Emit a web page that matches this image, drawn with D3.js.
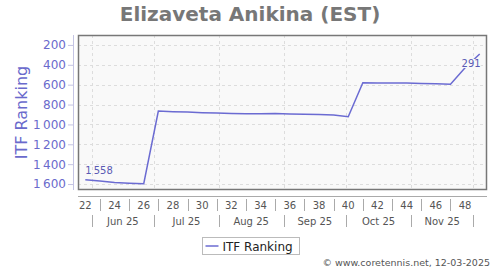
<!DOCTYPE html>
<html>
<head>
<meta charset="utf-8">
<script src="https://cdn.jsdelivr.net/npm/d3@7"></script>
<style>
  body { margin: 0; background: #fff; }
  svg { display: block; font-family: "DejaVu Sans", sans-serif; }
</style>
</head>
<body>
<svg id="chart" width="500" height="270"></svg>
<script>
// week numbers and ITF ranking
const weeks = [22, 23, 24, 25, 26, 27, 28, 29, 30, 31, 32, 33, 34, 35, 36, 37, 38, 39, 40, 41, 42, 43, 44, 45, 46, 47, 48, 49];
const ranks = [1558, 1570, 1585, 1592, 1597, 865, 872, 876, 882, 886, 890, 893, 893, 890, 895, 897, 900, 905, 922, 580, 582, 583, 583, 587, 590, 595, 430, 291];

const yTicks = [200, 400, 600, 800, 1000, 1200, 1400, 1600];
const weekTicks = [22, 24, 26, 28, 30, 32, 34, 36, 38, 40, 42, 44, 46, 48];
const weekSeps = [23, 25, 27, 29, 31, 33, 35, 37, 39, 41, 43, 45, 47];
// month starts in week units (Jun 1 .. Dec 1)
const monthStarts = [22.43, 26.71, 31.14, 35.57, 39.86, 44.29, 48.57];
const monthLabels = ['Jun 25', 'Jul 25', 'Aug 25', 'Sep 25', 'Oct 25', 'Nov 25'];

const plot = { left: 78, right: 487, top: 35, bottom: 190 };
const lineColor = '#6b6bd2';

const svg = d3.select('#chart');

const x = d3.scaleLinear().domain([21.5, 49.5]).range([plot.left, plot.right]);
const y = d3.scaleLinear().domain([100, 1660]).range([plot.top, plot.bottom]);

const fmt = d3.formatLocale({ decimal: '.', thousands: '\u2009', grouping: [3], currency: ['', ''] }).format(',d');

// Title
svg.append('text')
  .attr('x', 250)
  .attr('y', 21)
  .attr('text-anchor', 'middle')
  .style('font-size', '20px')
  .style('font-weight', 'bold')
  .style('fill', '#777')
  .text('Elizaveta Anikina (EST)');

// Plot background
svg.append('rect')
  .attr('x', plot.left)
  .attr('y', plot.top)
  .attr('width', plot.right - plot.left)
  .attr('height', plot.bottom - plot.top)
  .attr('fill', '#f9f9f9');

// Grid
svg.append('g')
  .selectAll('line')
  .data(yTicks)
  .enter()
  .append('line')
  .attr('x1', plot.left)
  .attr('x2', plot.right)
  .attr('y1', d => Math.round(y(d)) + 0.5)
  .attr('y2', d => Math.round(y(d)) + 0.5)
  .attr('stroke', '#ddd')
  .attr('stroke-dasharray', '3,3');

svg.append('g')
  .selectAll('line')
  .data(monthStarts)
  .enter()
  .append('line')
  .attr('x1', d => Math.round(x(d)) + 0.5)
  .attr('x2', d => Math.round(x(d)) + 0.5)
  .attr('y1', plot.top)
  .attr('y2', plot.bottom)
  .attr('stroke', '#ddd')
  .attr('stroke-dasharray', '3,3');

// Y axis
const yAxis = svg.append('g')
  .attr('transform', 'translate(73,0)')
  .call(d3.axisLeft(y).tickValues(yTicks).tickFormat(fmt).tickSize(5).tickPadding(2));
yAxis.select('.domain').attr('stroke', '#c4c4e4').attr('d', `M0.5,${plot.top}V${plot.bottom}`);
yAxis.selectAll('.tick line').attr('stroke', '#c4c4e4');
yAxis.selectAll('.tick text')
  .style('font-size', '12px')
  .style('font-family', '"DejaVu Sans", sans-serif')
  .attr('fill', '#6a6acc');

svg.append('text')
  .attr('transform', `translate(27,${(plot.top + plot.bottom) / 2}) rotate(-90)`)
  .attr('text-anchor', 'middle')
  .style('font-size', '16px')
  .style('fill', '#6a6acc')
  .text('ITF Ranking');

// X axis
const xAxisY = 196;
svg.append('line')
  .attr('x1', plot.left)
  .attr('x2', plot.right)
  .attr('y1', xAxisY + 0.5)
  .attr('y2', xAxisY + 0.5)
  .attr('stroke', '#aaa');

svg.append('g')
  .selectAll('text')
  .data(weekTicks)
  .enter()
  .append('text')
  .attr('x', d => x(d))
  .attr('y', 209)
  .attr('text-anchor', 'middle')
  .style('font-size', '10px')
  .style('fill', '#555')
  .text(d => d);

svg.append('g')
  .selectAll('line')
  .data(weekSeps)
  .enter()
  .append('line')
  .attr('x1', d => Math.round(x(d)) + 0.5)
  .attr('x2', d => Math.round(x(d)) + 0.5)
  .attr('y1', 199)
  .attr('y2', 211)
  .attr('stroke', '#aaa');

svg.append('g')
  .selectAll('line')
  .data(monthStarts)
  .enter()
  .append('line')
  .attr('x1', d => Math.round(x(d)) + 0.5)
  .attr('x2', d => Math.round(x(d)) + 0.5)
  .attr('y1', 215)
  .attr('y2', 227)
  .attr('stroke', '#aaa');

svg.append('g')
  .selectAll('text')
  .data(monthLabels)
  .enter()
  .append('text')
  .attr('x', (d, i) => (x(monthStarts[i]) + x(monthStarts[i + 1])) / 2)
  .attr('y', 225)
  .attr('text-anchor', 'middle')
  .style('font-size', '10px')
  .style('fill', '#555')
  .text(d => d);

// Line
const data = weeks.map((w, i) => ({ week: w, rank: ranks[i] }));
const line = d3.line()
  .x(d => x(d.week))
  .y(d => y(d.rank));

svg.append('path')
  .datum(data)
  .attr('fill', 'none')
  .attr('stroke', lineColor)
  .attr('stroke-width', 1.5)
  .attr('d', line);

// First / last value labels
const first = data[0];
const last = data[data.length - 1];

svg.append('text')
  .attr('x', x(first.week))
  .attr('y', y(first.rank) - 6)
  .style('font-size', '10px')
  .style('fill', '#5a5ab4')
  .text(fmt(first.rank));

const lastLabel = svg.append('text')
  .attr('x', x(last.week) + 1)
  .attr('y', y(last.rank) + 13)
  .attr('text-anchor', 'end')
  .style('font-size', '10px')
  .style('fill', '#5a5ab4')
  .text(fmt(last.rank));
const bb = lastLabel.node().getBBox();
svg.insert('rect', () => lastLabel.node())
  .attr('x', bb.x)
  .attr('y', bb.y + 1)
  .attr('width', bb.width)
  .attr('height', bb.height - 2)
  .attr('fill', '#f9f9f9');

// Plot border
svg.append('rect')
  .attr('x', plot.left + 0.5)
  .attr('y', plot.top + 0.5)
  .attr('width', plot.right - plot.left - 1)
  .attr('height', plot.bottom - plot.top - 1)
  .attr('fill', 'none')
  .attr('stroke', '#777')
  .attr('stroke-width', 1.5);

// Legend
const legend = svg.append('g').attr('transform', 'translate(202.5,237.5)');
legend.append('rect')
  .attr('width', 97)
  .attr('height', 17)
  .attr('fill', '#fff')
  .attr('stroke', '#bbb');
legend.append('line')
  .attr('x1', 3)
  .attr('x2', 16)
  .attr('y1', 8.5)
  .attr('y2', 8.5)
  .attr('stroke', lineColor)
  .attr('stroke-width', 1.5);
legend.append('text')
  .attr('x', 20)
  .attr('y', 13)
  .style('font-size', '12px')
  .style('fill', '#222')
  .text('ITF Ranking');

// Footer
svg.append('text')
  .attr('x', 490)
  .attr('y', 266)
  .attr('text-anchor', 'end')
  .style('font-size', '9.5px')
  .style('fill', '#555')
  .text('\u00a9 www.coretennis.net, 12-03-2025');
</script>
</body>
</html>
